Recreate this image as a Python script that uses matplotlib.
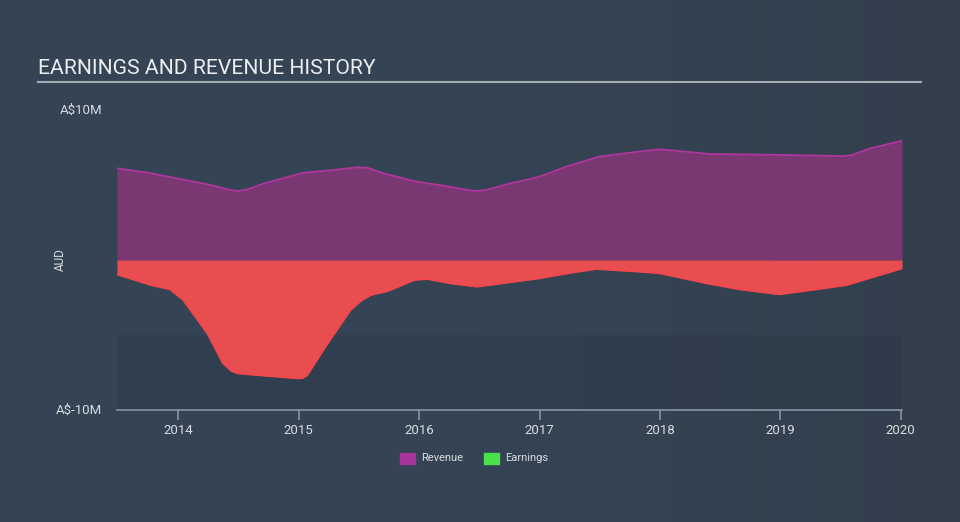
import matplotlib
matplotlib.use("Agg")
import matplotlib.pyplot as plt
import numpy as np
from matplotlib.patches import Rectangle
from matplotlib.colors import LinearSegmentedColormap

plt.rcParams['font.family'] = ['Roboto', 'DejaVu Sans']

# Data (A$ millions), x in decimal years
rev_x = [2013.49, 2013.76, 2014.27, 2014.41, 2014.49, 2014.57, 2014.71, 2015.04, 2015.29, 2015.49,
         2015.57, 2015.70, 2015.98, 2016.20, 2016.41, 2016.48, 2016.56, 2016.75, 2016.92, 2017.00,
         2017.22, 2017.49, 2017.76, 2017.90, 2018.00, 2018.41, 2018.89, 2019.52, 2019.60, 2019.72, 2020.01]
rev_y = [6.11, 5.80, 5.00, 4.70, 4.60, 4.70, 5.10, 5.82, 6.00, 6.18,
         6.15, 5.78, 5.22, 4.96, 4.66, 4.60, 4.68, 5.10, 5.40, 5.56,
         6.22, 6.89, 7.16, 7.30, 7.38, 7.07, 7.02, 6.93, 7.00, 7.38, 7.96]

earn_x = [2013.49, 2013.77, 2013.93, 2014.04, 2014.24, 2014.37, 2014.44, 2014.49, 2014.74,
          2014.99, 2015.03, 2015.07, 2015.24, 2015.43, 2015.52, 2015.60, 2015.74, 2015.96, 2016.07,
          2016.26, 2016.48, 2016.75, 2017.00, 2017.27, 2017.47, 2017.83, 2018.00,
          2018.39, 2018.66, 2018.99, 2019.30, 2019.55, 2020.01]
earn_y = [-0.96, -1.67, -1.96, -2.67, -4.89, -6.89, -7.40, -7.56, -7.73,
          -7.89, -7.88, -7.67, -5.56, -3.33, -2.70, -2.33, -2.07, -1.33, -1.27,
          -1.56, -1.78, -1.49, -1.22, -0.84, -0.60, -0.78, -0.89,
          -1.56, -1.96, -2.29, -1.96, -1.67, -0.56]

years = [2014, 2015, 2016, 2017, 2018, 2019, 2020]
ytick_vals = [10, -10]
ytick_labels = ["A$10M", "A$-10M"]

W, H = 960, 522
fig = plt.figure(figsize=(W / 100, H / 100), dpi=100)

# background gradient
bg = fig.add_axes([0, 0, 1, 1], zorder=-10)
grad = np.linspace(0, 1, 256).reshape(1, -1)
cmap = LinearSegmentedColormap.from_list("bg", ["#344454", "#354454", "#333f4d"])
bg.imshow(grad, aspect='auto', cmap=cmap, extent=[0, 1, 0, 1])
bg.set_axis_off()

L, R = 117 / W, 902 / W
B, T = (H - 410) / H, (H - 110) / H
ax = fig.add_axes([L, B, R - L, T - B])
ax.patch.set_alpha(0)
ax.set_xlim(2013.49, 2020.01)
ax.set_ylim(-10, 10)

ax.axhspan(-10, -5, color="#1a2230", alpha=0.13, zorder=0, lw=0)

ax.fill_between(rev_x, 0, rev_y, color="#7a3873", lw=0, zorder=2)
ax.plot(rev_x, rev_y, color="#b0369e", lw=1.3, zorder=3)
ax.fill_between(earn_x, 0, earn_y, color="#e84e50", lw=0, zorder=2)
ax.plot(earn_x, earn_y, color="#f2474c", lw=1.3, zorder=3)

for s in ['top', 'right', 'left']:
    ax.spines[s].set_visible(False)
ax.spines['bottom'].set_color("#8595a5")
ax.spines['bottom'].set_linewidth(1.2)
ax.set_xticks(years)
ax.set_xticklabels([str(y) for y in years], color="#d8dce0", fontsize=9.5)
ax.tick_params(axis='x', length=7, width=1.2, color="#8595a5", pad=3)
ax.set_yticks([])

# y labels
for v, lab in zip(ytick_vals, ytick_labels):
    ypix = 260 - v * 15
    fig.text(102 / W, 1 - ypix / H, lab, ha='right', va='center', color="#d8dce0", fontsize=9.5)
fig.text(60 / W, 1 - 260 / H, "AUD", rotation=90, ha='center', va='center', color="#d8dce0", fontsize=8.5)

# title
fig.text(38 / W, 1 - 68 / H, "EARNINGS AND REVENUE HISTORY", ha='left', va='center',
         color="#eceef0", fontsize=15.2)
fig.add_artist(plt.Line2D([38 / W, 921 / W], [1 - 82 / H, 1 - 82 / H], color="#a4acb4", lw=1.5))

# legend
ly = 1 - 458 / H
fig.add_artist(Rectangle((400 / W, ly - 6 / H), 15 / W, 11 / H, color="#a8359a", transform=fig.transFigure))
fig.text(421 / W, ly, "Revenue", ha='left', va='center', color="#d8dce0", fontsize=8)
fig.add_artist(Rectangle((484 / W, ly - 6 / H), 15 / W, 11 / H, color="#4be04b", transform=fig.transFigure))
fig.text(505 / W, ly, "Earnings", ha='left', va='center', color="#d8dce0", fontsize=8)

fig.savefig("out.png", dpi=100)
